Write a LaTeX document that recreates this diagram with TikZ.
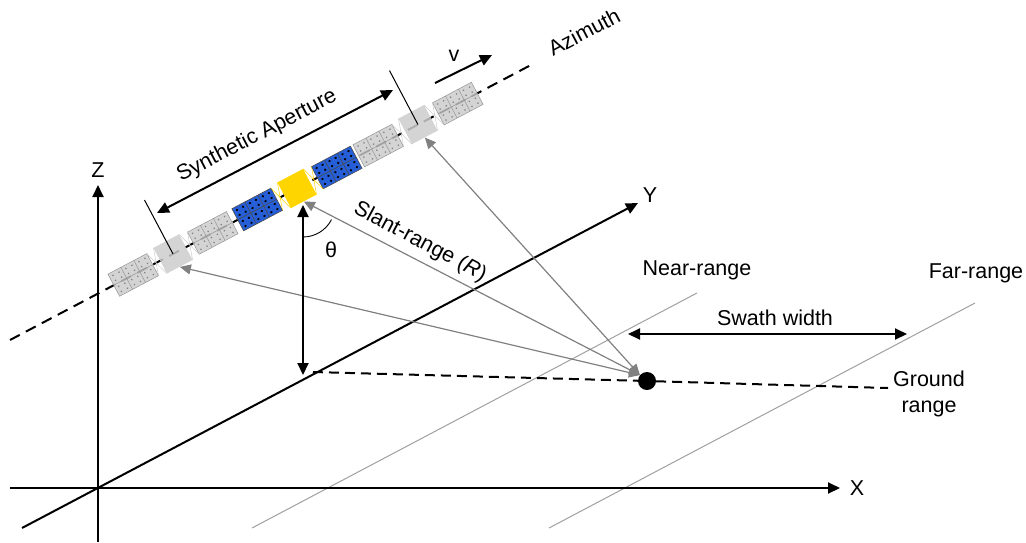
\documentclass[tikz,border=0pt]{standalone}
\usepackage{fontspec}
\setmainfont{Liberation Sans}
\usetikzlibrary{arrows.meta}

\definecolor{panelblue}{RGB}{37,94,214}
\definecolor{busyellow}{RGB}{255,213,0}
\definecolor{ghostfill}{RGB}{204,204,204}
\definecolor{ghostgrid}{RGB}{150,150,150}
\definecolor{ghostdot}{RGB}{115,115,115}
\definecolor{raygray}{RGB}{128,128,128}
\definecolor{rangegray}{RGB}{160,160,160}

\begin{document}
\begin{tikzpicture}[x=1pt,y=-1pt,
  font=\fontsize{21.5}{26}\selectfont,
  txt/.style={inner sep=1pt},
  axis/.style={line width=2pt,-{Triangle[length=12pt,width=11pt]}},
  span/.style={line width=2pt,{Triangle[length=12pt,width=11pt]}-{Triangle[length=12pt,width=11pt]}},
  track/.style={line width=2pt,dash pattern=on 11pt off 7pt},
  groundline/.style={line width=2pt,dash pattern=on 10pt off 6pt},
  ray/.style={draw=raygray,line width=1.2pt,{Triangle[length=11pt,width=10pt]}-{Triangle[length=11pt,width=10pt]}},
  rangeline/.style={draw=rangegray,line width=1pt},
  tickline/.style={line width=1pt},
  pics/satellite/.style n args={5}{code={
    % two solar wings, 3x2 cells each, on either side of the bus
    \foreach \s in {-1,1}{
      \begin{scope}[shift={(\s*45,0)}]
        \fill[#2] (-22,-12.5) rectangle (22,12.5);
        \draw[#3] (-22,-12.5) rectangle (22,12.5)
          (-7.33,-12.5) -- (-7.33,12.5) (7.33,-12.5) -- (7.33,12.5) (-22,0) -- (22,0);
        \foreach \cx in {-14.67,0,14.67}
          \foreach \cy in {-6.25,6.25}
            \foreach \dx in {-3.4,3.4}
              \foreach \dy in {-2.8,2.8}
                \fill[#4] (\cx+\dx,\cy+\dy) circle (#5);
      \end{scope}
      \draw[draw=#1,line width=0.5pt] (\s*14.5,-14.5) -- (\s*23,12.5)
        (\s*14.5,14.5) -- (\s*23,-12.5);
    }
    \node[fill=#1,minimum size=29pt,inner sep=0pt,transform shape] (-body) at (0,0) {};
  }}
]
\useasboundingbox (0,0) rectangle (1026,542);

% key points
\coordinate (O) at (98,488);
\coordinate (xL) at (10,488);
\coordinate (xR) at (840,488);
\coordinate (zB) at (98,542);
\coordinate (zT) at (98,185);
\coordinate (yB) at (22,528);
\coordinate (yT) at (638,203);
\coordinate (nearA) at (252,528);
\coordinate (nearB) at (697,293);
\coordinate (farA) at (549,528);
\coordinate (farB) at (975,303);
\coordinate (trackA) at (10,340);
\coordinate (trackB) at (533,63.9);
\coordinate (apex) at (303,205);
\coordinate (foot) at (303,375);
\coordinate (gstart) at (313,372);
\coordinate (gend) at (888,388);
\coordinate (swL) at (628,334);
\coordinate (swR) at (907,334);
\coordinate (saL) at (157,213);
\coordinate (saR) at (393,90);
\coordinate (vA) at (435,83);
\coordinate (vB) at (492,55);

% ground reference lines
\draw[rangeline] (nearA) -- (nearB);
\draw[rangeline] (farA) -- (farB);

% axes
\draw[axis] (xL) -- (xR);
\draw[axis] (zB) -- (zT);
\draw[axis] (yB) -- (yT);

% flight track
\draw[track] (trackA) -- (trackB);

% satellites along the track
\pic[rotate=27.83,fill opacity=0.85] (L) at (173,253.9)
  {satellite={ghostfill}{fill=ghostfill}{draw=ghostgrid,line width=0.5pt}{fill=ghostdot}{0.9}};
\pic[rotate=27.83,fill opacity=0.85] (R) at (418,124.6)
  {satellite={ghostfill}{fill=ghostfill}{draw=ghostgrid,line width=0.5pt}{fill=ghostdot}{0.9}};
\pic[rotate=27.83] (C) at (297,188.5)
  {satellite={busyellow}{fill=panelblue}{draw=black!70,line width=0.6pt}{fill=black}{1.3}};

% target on the ground
\node[circle,fill=black,minimum size=18pt,inner sep=0pt] (tgt) at (647,381) {};

% ground range
\draw[groundline] (gstart) -- (tgt) -- (gend);

% slant ranges
\draw[ray] (L-body.south) -- (tgt.140);
\draw[ray] (R-body.south) -- (tgt.140);
\draw[ray] (C-body.south) -- (tgt.140);

% height and look angle
\draw[span] (apex) -- (foot);
\draw[line width=0.9pt] (apex) ++(90:32) arc[start angle=90,end angle=27,radius=32];

% synthetic aperture extent
\coordinate (tickL) at (144.5,200);
\coordinate (tickR) at (389.5,70.6);
\draw[tickline] (L-body.center) -- (tickL);
\draw[tickline] (R-body.center) -- (tickR);
\draw[span] (saL) -- (saR);

% velocity
\draw[line width=2pt,-{Triangle[length=12pt,width=11pt]}] (vA) -- (vB);

% swath
\draw[span] (swL) -- (swR);

% labels
\node[txt] (lz) at (98,170) {Z};
\node[txt] (ly) at (650,195) {Y};
\node[txt] (lx) at (857,488) {X};
\node[txt,rotate=27.8] (laz) at (584,32) {Azimuth};
\node[txt] (lv) at (454,56) {v};
\node[txt,rotate=27.5] (lsa) at (257,136) {Synthetic Aperture};
\node[txt,rotate=-28] (lsr) at (420,242) {Slant-range (\textit{R})};
\node[txt] (lth) at (331,250) {θ};
\node[txt] (lnr) at (697,270) {Near-range};
\node[txt] (lfr) at (976,273) {Far-range};
\node[txt] (lsw) at (775,318) {Swath width};
\node[txt,align=center] (lgr) at (929,394) {Ground\\range};
\end{tikzpicture}
\end{document}
